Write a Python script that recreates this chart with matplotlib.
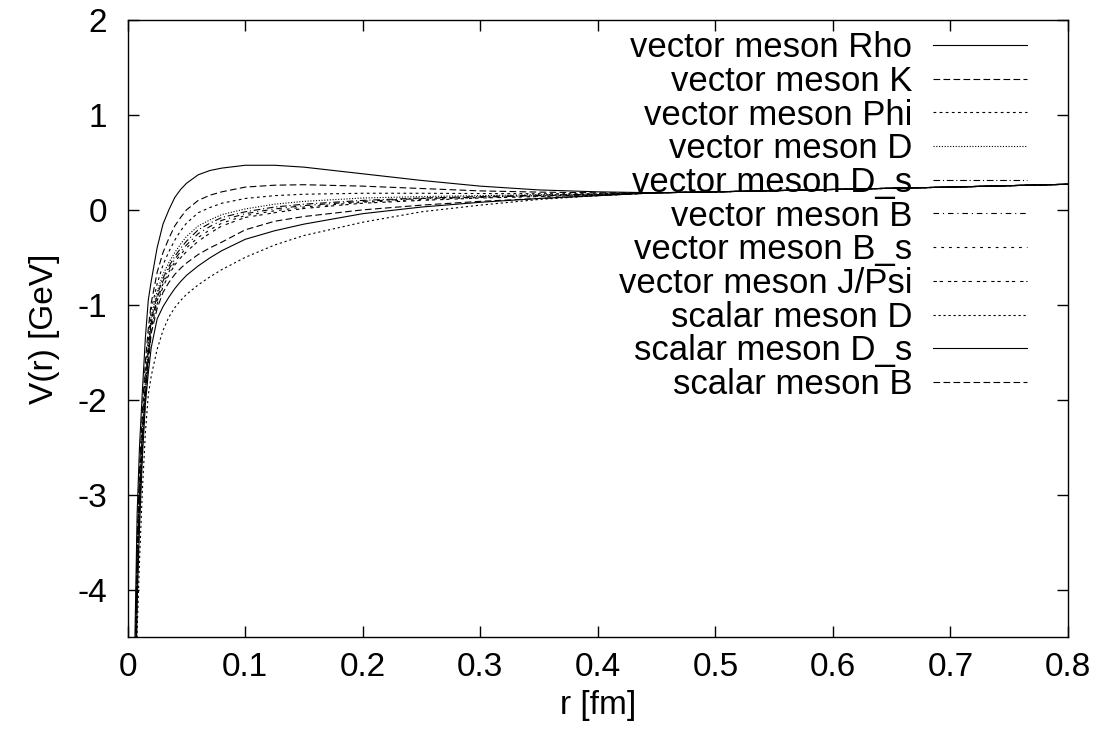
import matplotlib
matplotlib.use('Agg')
import matplotlib.pyplot as plt

plt.rcParams['font.family'] = ['Liberation Sans', 'DejaVu Sans']
plt.rcParams['axes.unicode_minus'] = False

# radial grid [fm]
r = [0.005, 0.008, 0.01, 0.0125, 0.015, 0.0175, 0.02, 0.025, 0.03, 0.035,
     0.04, 0.045, 0.05, 0.06, 0.07, 0.08, 0.1, 0.125, 0.15, 0.2,
     0.25, 0.3, 0.35, 0.4, 0.45, 0.5, 0.6, 0.7, 0.8]

tail = [0.18, 0.19, 0.215, 0.24, 0.27]   # r = 0.45 .. 0.8, all curves meet

# potentials V(r) [GeV]
rho = [-5.3, -3.2, -2.5, -1.9, -1.35, -0.95, -0.75, -0.4, -0.15, 0.0,
       0.13, 0.215, 0.28, 0.37, 0.415, 0.44, 0.47, 0.47, 0.45, 0.38,
       0.31, 0.25, 0.21, 0.19] + tail
k = [-5.7, -3.5, -2.75, -2.1, -1.6, -1.25, -0.98, -0.66, -0.45, -0.3,
     -0.17, -0.08, 0.0, 0.1, 0.155, 0.19, 0.24, 0.26, 0.265, 0.25,
     0.225, 0.2, 0.187, 0.18] + tail
phi = [-5.85, -3.6, -2.85, -2.2, -1.72, -1.37, -1.05, -0.78, -0.58, -0.44,
       -0.32, -0.22, -0.14, -0.03, 0.025, 0.07, 0.12, 0.15, 0.165, 0.175,
       0.175, 0.172, 0.17, 0.17] + tail
d = [-6.0, -3.7, -2.95, -2.3, -1.8, -1.44, -1.12, -0.86, -0.68, -0.555,
     -0.45, -0.36, -0.28, -0.17, -0.105, -0.05, 0.01, 0.06, 0.09, 0.125,
     0.14, 0.15, 0.16, 0.165] + tail
d_s = [-6.1, -3.75, -3.0, -2.35, -1.85, -1.48, -1.16, -0.9, -0.72, -0.595,
       -0.49, -0.405, -0.33, -0.21, -0.14, -0.08, -0.02, 0.03, 0.06, 0.1,
       0.125, 0.14, 0.155, 0.165] + tail
b = [-6.2, -3.8, -3.05, -2.38, -1.88, -1.51, -1.19, -0.93, -0.75, -0.625,
     -0.52, -0.44, -0.37, -0.25, -0.175, -0.11, -0.04, 0.01, 0.045, 0.09,
     0.12, 0.135, 0.15, 0.16] + tail
b_s = [-6.3, -3.85, -3.1, -2.42, -1.92, -1.55, -1.22, -0.96, -0.78, -0.655,
       -0.55, -0.47, -0.4, -0.29, -0.21, -0.14, -0.06, -0.01, 0.03, 0.08,
       0.11, 0.13, 0.145, 0.158] + tail
jpsi = [-6.4, -3.9, -3.15, -2.45, -1.95, -1.58, -1.25, -0.99, -0.81, -0.685,
        -0.58, -0.505, -0.44, -0.33, -0.245, -0.17, -0.08, -0.03, 0.015, 0.07,
        0.1, 0.125, 0.14, 0.155] + tail
sc_d = [-7.5, -4.45, -3.7, -2.95, -2.35, -1.95, -1.75, -1.47, -1.27, -1.13,
        -1.03, -0.955, -0.89, -0.79, -0.705, -0.63, -0.5, -0.37, -0.27, -0.13,
        -0.02, 0.05, 0.11, 0.15] + tail
sc_ds = [-6.9, -4.15, -3.35, -2.6, -2.05, -1.72, -1.45, -1.15, -1.02, -0.92,
         -0.83, -0.755, -0.69, -0.59, -0.505, -0.43, -0.31, -0.22, -0.15, -0.04,
         0.03, 0.08, 0.12, 0.15] + tail
sc_b = [-6.6, -4.0, -3.2, -2.5, -2.0, -1.62, -1.3, -1.04, -0.87, -0.765,
        -0.68, -0.615, -0.56, -0.47, -0.4, -0.34, -0.21, -0.12, -0.07, 0.0,
        0.05, 0.09, 0.12, 0.15] + tail

labels = ['vector meson Rho', 'vector meson K', 'vector meson Phi',
          'vector meson D', 'vector meson D_s', 'vector meson B',
          'vector meson B_s', 'vector meson J/Psi', 'scalar meson D',
          'scalar meson D_s', 'scalar meson B']
series = [rho, k, phi, d, d_s, b, b_s, jpsi, sc_d, sc_ds, sc_b]
dashes = [None, (6, 3), (2.5, 3), (1, 1.5), (6, 2.5, 1, 2.5), (5, 3.5, 1, 3.5),
          (2.5, 4.5), (3, 2.5, 3, 4.5), (2, 2.5), None, (6, 3)]

fs = 24
fig = plt.figure(figsize=(11.03, 7.42), dpi=100)
ax = fig.add_axes([0.1158, 0.1415, 0.8525, 0.8315])

for v, lab, ds in zip(series, labels, dashes):
    line, = ax.plot(r, v, color='black', lw=0.8, label=lab)
    if ds is not None:
        line.set_dashes(ds)

ax.set_xlim(0, 0.8)
ax.set_ylim(-4.5, 2)
ax.set_xticks([0, 0.1, 0.2, 0.3, 0.4, 0.5, 0.6, 0.7, 0.8])
ax.set_xticklabels(['0', '0.1', '0.2', '0.3', '0.4', '0.5', '0.6', '0.7', '0.8'])
ax.set_yticks([-4, -3, -2, -1, 0, 1, 2])
ax.tick_params(direction='in', length=8, width=1, top=True, right=True,
               labelsize=fs)
ax.tick_params(axis='x', pad=11)
ax.tick_params(axis='y', pad=15)
for s in ax.spines.values():
    s.set_linewidth(1.0)

ax.set_xlabel('r [fm]', fontsize=fs, labelpad=5)
ax.set_ylabel('V(r) [GeV]', fontsize=fs, labelpad=12)

leg = ax.legend(loc='upper right', bbox_to_anchor=(0.956, 0.982),
                frameon=False, markerfirst=False, fontsize=25,
                handlelength=2.7, handletextpad=0.6, labelspacing=0.02,
                borderpad=0, borderaxespad=0)

plt.savefig('out.png', dpi=100)
